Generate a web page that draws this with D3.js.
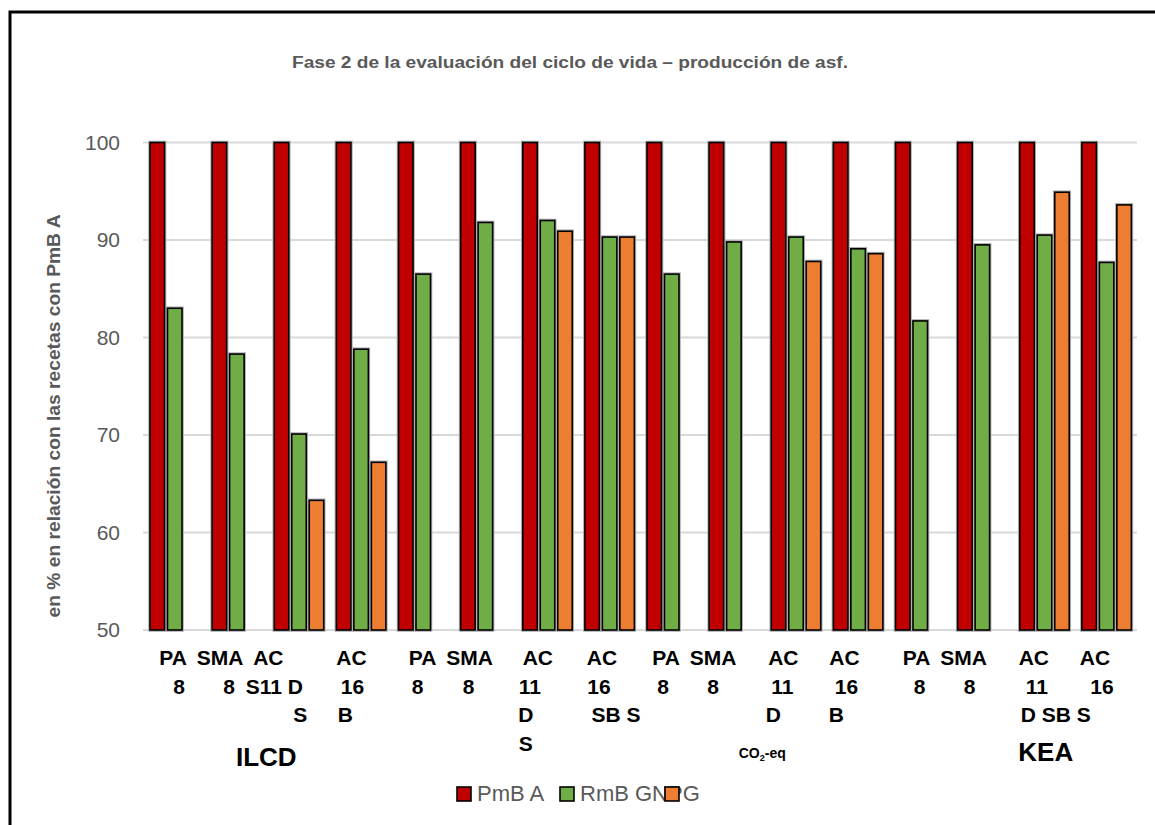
<!DOCTYPE html>
<html>
<head>
<meta charset="utf-8">
<script src="https://cdn.jsdelivr.net/npm/d3@7"></script>
<style>
  html, body { margin: 0; padding: 0; background: #fff; }
  svg { display: block; font-family: "Liberation Sans", Arial, sans-serif; }
</style>
</head>
<body>
<svg id="chart" width="1155" height="825"></svg>
<script>
// ---------------- DATA ----------------
const categories = ["PA 8", "SMA 8", "AC 11 DS", "AC 16 B",
                    "PA 8", "SMA 8", "AC 11 DS", "AC 16 SBS",
                    "PA 8", "SMA 8", "AC 11 D", "AC 16 B",
                    "PA 8", "SMA 8", "AC 11 DSBS", "AC 16 S"];
const categoryLines = [
  ["PA", "8"], ["SMA", "8"], ["AC", "S11 D", "S"], ["AC", "16", "B"],
  ["PA", "8"], ["SMA", "8"], ["AC", "11", "D", "S"], ["AC", "16", "SB S"],
  ["PA", "8"], ["SMA", "8"], ["AC", "11", "D"], ["AC", "16", "B"],
  ["PA", "8"], ["SMA", "8"], ["AC", "11", "D SB S"], ["AC", "16"]
];
const groupLabels = ["ILCD", "", "CO2-eq", "KEA"];
const seriesNames = ["PmB A", "RmB GNPG", ""];
const pmbA     = [100, 100, 100, 100, 100, 100, 100, 100, 100, 100, 100, 100, 100, 100, 100, 100];
const rmbGNPG  = [83.0, 78.3, 70.1, 78.8, 86.5, 91.8, 92.0, 90.3, 86.5, 89.8, 90.3, 89.1, 81.7, 89.5, 90.5, 87.7];
const series3  = [null, null, 63.3, 67.2, null, null, 90.9, 90.3, null, null, 87.8, 88.6, null, null, 94.9, 93.6];
const yTicks = [50, 60, 70, 80, 90, 100];
const title = "Fase 2 de la evaluación del ciclo de vida – producción de asf.";
const yTitle = "en % en relación con las recetas con PmB A";

// ---------------- LAYOUT / STYLE ----------------
const colors = ["#c00000", "#70ad47", "#ed7d31"];
const gray = "#595959";
const plot = { left: 143, right: 1137, top: 142.5, bottom: 630 };
// per-line horizontal nudges of category label lines (relative to band centre)
const lineDx = [
  [-1, 5], [-16, -7], [-30, -24, 2], [-9, -8, -15],
  [0, -5], [-15, -16], [-9, -17, -21, -21], [-7, -10, 7],
  [-5, -8], [-20, -20], [-12, -13, -22], [-13, -11, -21],
  [-3, 0], [-18, -12], [-10, -7, 12], [-11, -4]
];
const groupDx = [-1, 0, -2, 33];
const groupDy = [766, 766, 758, 761];
const legendX = [457, 560, 665];

const svg = d3.select("#chart");

// frame
svg.append("rect").attr("x", 10).attr("y", 12).attr("width", 1200).attr("height", 900)
  .attr("fill", "none").attr("stroke", "#000").attr("stroke-width", 3);

// title
svg.append("text").attr("x", 570).attr("y", 68).attr("text-anchor", "middle")
  .attr("font-size", 16).attr("font-weight", "bold").attr("fill", gray)
  .attr("textLength", 556).attr("lengthAdjust", "spacingAndGlyphs")
  .text(title);

// scales
const x = d3.scaleBand().domain(d3.range(categories.length)).range([plot.left, plot.right]).paddingInner(0).paddingOuter(0);
const xs = d3.scaleBand().domain(d3.range(3)).range([7, 56.5]).paddingInner(0.17);
const y = d3.scaleLinear().domain([50, 100]).range([plot.bottom, plot.top]);

// gridlines
svg.append("g").selectAll("line").data(yTicks).join("line")
  .attr("x1", plot.left).attr("x2", plot.right)
  .attr("y1", d => y(d)).attr("y2", d => y(d))
  .attr("stroke", "#d9d9d9").attr("stroke-width", 2);

// y axis labels
const yAxis = d3.axisLeft(y).tickValues(yTicks).tickSize(0).tickPadding(0);
const yg = svg.append("g").attr("transform", `translate(120,0)`).call(yAxis);
yg.select(".domain").remove();
yg.selectAll("text").attr("font-size", 21).attr("fill", gray)
  .attr("font-family", "'Liberation Sans', Arial, sans-serif");

// y title
svg.append("text").attr("transform", "translate(60,416) rotate(-90)")
  .attr("text-anchor", "middle").attr("font-size", 18).attr("font-weight", "bold")
  .attr("fill", gray).attr("textLength", 403).attr("lengthAdjust", "spacingAndGlyphs")
  .text(yTitle);

// bars
const allSeries = [pmbA, rmbGNPG, series3];
const barData = [];
allSeries.forEach((vals, s) => vals.forEach((v, i) => {
  if (v != null) barData.push({ i, s, v });
}));
const barG = svg.append("g");
// soft grey halo under the bars
barG.selectAll("rect.halo").data(barData).join("rect").attr("class", "halo")
  .attr("x", d => x(d.i) + xs(d.s))
  .attr("width", xs.bandwidth())
  .attr("y", d => y(d.v))
  .attr("height", d => y(50) - y(d.v))
  .attr("fill", "none")
  .attr("stroke", "#b0b0b0").attr("stroke-width", 3.6);
barG.selectAll("rect.bar").data(barData).join("rect").attr("class", "bar")
  .attr("x", d => x(d.i) + xs(d.s))
  .attr("width", xs.bandwidth())
  .attr("y", d => y(d.v))
  .attr("height", d => y(50) - y(d.v))
  .attr("fill", d => colors[d.s])
  .attr("stroke", "#000").attr("stroke-width", 1.6);

// category labels
const catG = svg.append("g");
categoryLines.forEach((lines, i) => {
  lines.forEach((ln, j) => {
    catG.append("text")
      .attr("x", x(i) + x.bandwidth() / 2 + lineDx[i][j])
      .attr("y", plot.bottom + 35 + j * 28.5)
      .attr("text-anchor", "middle").attr("font-size", 21).attr("font-weight", "bold")
      .attr("fill", "#000").text(ln);
  });
});

// group labels
groupLabels.forEach((g, k) => {
  if (!g) return;
  const cx = x(k * 4) + 2 * x.step() + groupDx[k];
  const t = svg.append("text").attr("x", cx).attr("y", groupDy[k])
    .attr("text-anchor", "middle").attr("font-weight", "bold").attr("fill", "#000");
  if (g === "CO2-eq") {
    t.attr("font-size", 14);
    t.append("tspan").text("CO");
    t.append("tspan").attr("font-size", 9).attr("dy", 3).text("2");
    t.append("tspan").attr("dy", -3).text("-eq");
  } else {
    t.attr("font-size", 26).text(g);
  }
});

// legend
const lg = svg.append("g");
seriesNames.forEach((name, s) => {
  lg.append("text").attr("x", legendX[s] + 20).attr("y", 801)
    .attr("font-size", 22).attr("fill", gray).text(name);
});
seriesNames.forEach((name, s) => {
  lg.append("rect").attr("x", legendX[s]).attr("y", 787).attr("width", 14).attr("height", 14)
    .attr("fill", colors[s]).attr("stroke", "#000").attr("stroke-width", 1.6);
});
</script>
</body>
</html>
